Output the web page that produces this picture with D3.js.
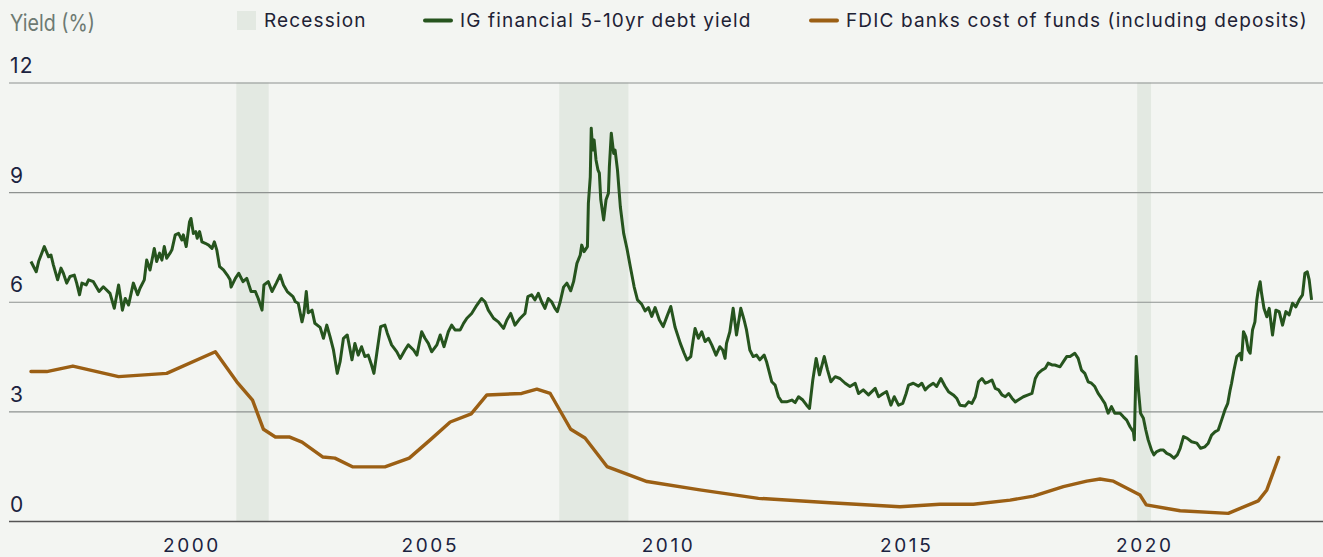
<!DOCTYPE html>
<html>
<head>
<meta charset="utf-8">
<script src="https://cdn.jsdelivr.net/npm/d3@7"></script>
<style>
  body { margin: 0; background: #f3f5f2; }
  svg { display: block; }
  text { font-family: Inter, "Noto Sans", sans-serif; }
</style>
</head>
<body>
<svg id="chart" width="1323" height="557"></svg>
<script>
// IG financial 5-10yr debt yield (decimal year, %)
const igYear = [
  1996.86,1996.97,1997.02,1997.14,1997.23,1997.28,1997.33,1997.42,1997.49,1997.54,
  1997.61,1997.68,1997.77,1997.82,1997.88,1997.93,1998.02,1998.07,1998.17,1998.29,
  1998.38,1998.52,1998.61,1998.70,1998.75,1998.78,1998.84,1998.91,1999.01,1999.10,
  1999.15,1999.24,1999.29,1999.36,1999.45,1999.50,1999.56,1999.61,1999.66,1999.71,
  1999.78,1999.82,1999.89,1999.96,2000.03,2000.06,2000.12,2000.19,2000.22,2000.27,
  2000.32,2000.35,2000.40,2000.45,2000.52,2000.59,2000.66,2000.71,2000.76,2000.82,
  2000.90,2000.98,2001.04,2001.06,2001.15,2001.22,2001.31,2001.39,2001.48,2001.57,
  2001.63,2001.71,2001.75,2001.84,2001.92,2002.01,2002.09,2002.16,2002.24,2002.36,
  2002.41,2002.47,2002.55,2002.59,2002.64,2002.68,2002.76,2002.82,2002.93,2003.00,
  2003.07,2003.14,2003.21,2003.29,2003.35,2003.42,2003.50,2003.60,2003.66,2003.73,
  2003.80,2003.87,2003.94,2004.01,2004.06,2004.12,2004.20,2004.29,2004.34,2004.43,
  2004.54,2004.61,2004.71,2004.78,2004.89,2004.96,2005.06,2005.13,2005.20,2005.27,
  2005.38,2005.45,2005.53,2005.62,2005.69,2005.76,2005.87,2005.94,2006.01,2006.11,
  2006.22,2006.32,2006.39,2006.46,2006.57,2006.67,2006.78,2006.85,2006.93,2007.02,
  2007.13,2007.23,2007.29,2007.37,2007.44,2007.51,2007.58,2007.65,2007.72,2007.79,
  2007.86,2007.91,2007.97,2008.04,2008.11,2008.19,2008.25,2008.32,2008.39,2008.42,
  2008.47,2008.54,2008.56,2008.60,2008.62,2008.65,2008.68,2008.72,2008.76,2008.79,
  2008.82,2008.88,2008.93,2008.98,2009.00,2009.04,2009.09,2009.12,2009.17,2009.23,
  2009.30,2009.37,2009.44,2009.52,2009.59,2009.68,2009.75,2009.82,2009.89,2009.96,
  2010.05,2010.13,2010.21,2010.29,2010.38,2010.49,2010.57,2010.63,2010.71,2010.76,
  2010.80,2010.87,2010.94,2011.01,2011.08,2011.15,2011.24,2011.32,2011.38,2011.43,
  2011.46,2011.53,2011.60,2011.67,2011.76,2011.83,2011.88,2011.95,2012.02,2012.09,
  2012.16,2012.25,2012.30,2012.41,2012.48,2012.55,2012.62,2012.72,2012.83,2012.90,
  2012.97,2013.06,2013.14,2013.20,2013.27,2013.34,2013.41,2013.51,2013.58,2013.65,
  2013.74,2013.84,2013.95,2014.05,2014.16,2014.23,2014.33,2014.44,2014.51,2014.58,
  2014.65,2014.75,2014.82,2014.91,2014.98,2015.07,2015.16,2015.23,2015.28,2015.38,
  2015.49,2015.56,2015.63,2015.70,2015.80,2015.87,2015.96,2016.05,2016.12,2016.22,
  2016.29,2016.36,2016.47,2016.54,2016.61,2016.68,2016.75,2016.82,2016.89,2016.96,
  2017.03,2017.10,2017.17,2017.24,2017.31,2017.38,2017.45,2017.52,2017.58,2017.69,
  2017.79,2017.87,2017.94,2018.00,2018.08,2018.15,2018.21,2018.29,2018.35,2018.46,
  2018.53,2018.60,2018.67,2018.77,2018.84,2018.91,2018.98,2019.05,2019.12,2019.19,
  2019.26,2019.33,2019.40,2019.47,2019.54,2019.61,2019.72,2019.79,2019.86,2019.93,
  2020.00,2020.02,2020.06,2020.10,2020.15,2020.21,2020.26,2020.31,2020.38,2020.43,
  2020.49,2020.56,2020.63,2020.70,2020.77,2020.85,2020.92,2020.98,2021.05,2021.13,
  2021.22,2021.33,2021.41,2021.50,2021.57,2021.64,2021.71,2021.78,2021.85,2021.92,
  2021.98,2022.03,2022.06,2022.11,2022.17,2022.24,2022.27,2022.31,2022.36,2022.41,
  2022.45,2022.50,2022.55,2022.59,2022.62,2022.66,2022.69,2022.74,2022.80,2022.85,
  2022.92,2022.99,2023.06,2023.13,2023.20,2023.27,2023.34,2023.41,2023.48,2023.55,
  2023.60,2023.65,2023.69,2023.74
];
const igYield = [
  7.10,6.82,7.10,7.51,7.23,7.28,7.01,6.60,6.92,6.78,
  6.51,6.69,6.73,6.51,6.19,6.51,6.46,6.60,6.55,6.28,
  6.41,6.23,5.82,6.46,6.05,5.77,6.09,5.91,6.51,6.19,
  6.37,6.60,7.14,6.87,7.46,7.10,7.33,7.14,7.51,7.19,
  7.33,7.42,7.83,7.87,7.69,7.83,7.51,8.19,8.28,7.87,
  7.92,7.74,7.92,7.64,7.60,7.55,7.46,7.64,7.42,6.96,
  6.87,6.73,6.60,6.40,6.64,6.78,6.55,6.64,6.28,6.28,
  6.09,5.77,6.46,6.55,6.28,6.51,6.73,6.46,6.28,6.14,
  6.00,5.96,5.45,5.68,6.28,5.70,5.77,5.41,5.30,5.00,
  5.36,5.04,4.68,4.04,4.36,5.00,5.09,4.41,4.86,4.54,
  4.77,4.50,4.54,4.27,4.04,4.59,5.32,5.36,5.14,4.82,
  4.63,4.45,4.68,4.82,4.68,4.54,5.18,5.00,4.86,4.63,
  4.82,5.09,4.77,5.18,5.36,5.23,5.23,5.41,5.55,5.68,
  5.91,6.09,6.00,5.77,5.55,5.45,5.27,5.50,5.68,5.36,
  5.55,5.68,6.14,6.19,6.05,6.23,6.00,5.82,6.09,6.00,
  5.82,5.73,6.00,6.40,6.51,6.30,6.55,7.05,7.28,7.55,
  7.37,7.51,8.69,9.42,10.75,10.15,10.43,9.88,9.61,9.52,
  8.79,8.24,8.79,8.97,9.70,10.61,10.06,10.15,9.61,8.60,
  7.87,7.45,6.96,6.41,6.05,5.93,5.75,5.84,5.60,5.84,
  5.50,5.32,5.60,5.87,5.30,4.86,4.59,4.41,4.50,4.95,
  5.27,5.00,5.18,4.91,5.00,4.82,4.54,4.77,4.68,4.45,
  4.86,5.18,5.82,5.09,5.82,5.50,5.23,4.68,4.50,4.54,
  4.41,4.54,4.36,3.81,3.72,3.40,3.26,3.26,3.31,3.24,
  3.40,3.31,3.17,3.08,3.86,4.45,4.00,4.50,4.13,3.81,
  3.95,3.90,3.77,3.68,3.77,3.49,3.59,3.45,3.54,3.63,
  3.40,3.49,3.54,3.17,3.40,3.17,3.22,3.49,3.72,3.77,
  3.69,3.77,3.59,3.68,3.77,3.68,3.90,3.68,3.54,3.45,
  3.36,3.17,3.15,3.26,3.22,3.40,3.81,3.90,3.77,3.81,
  3.86,3.63,3.59,3.45,3.40,3.49,3.36,3.26,3.31,3.40,
  3.45,3.49,3.90,4.04,4.13,4.18,4.32,4.27,4.27,4.22,
  4.36,4.50,4.50,4.59,4.45,4.13,4.04,3.81,3.77,3.68,
  3.49,3.36,3.22,2.95,3.13,2.95,2.95,2.85,2.76,2.58,
  2.44,2.22,4.50,3.68,2.95,2.81,2.49,2.22,1.94,1.81,
  1.90,1.94,1.94,1.85,1.81,1.72,1.81,1.99,2.31,2.26,
  2.17,2.13,1.99,2.03,2.13,2.35,2.44,2.49,2.76,3.04,
  3.22,3.59,3.77,4.13,4.50,4.59,4.41,5.18,5.04,4.68,
  4.59,5.23,5.45,6.05,6.32,6.55,6.23,5.82,5.59,5.82,
  5.09,5.77,5.73,5.36,5.73,5.64,5.96,5.86,6.05,6.19,
  6.78,6.82,6.60,6.05
];

// FDIC banks cost of funds (including deposits)
const fdicYear = [
  1996.86,1997.19,1997.74,1998.70,1999.71,2000.73,2001.18,2001.51,2001.74,2001.99,
  2002.28,2002.55,2002.99,2003.24,2003.62,2004.29,2004.80,2005.24,2005.66,2006.10,
  2006.43,2007.16,2007.48,2007.76,2008.19,2008.49,2008.95,2009.79,2010.90,2012.13,
  2013.63,2015.10,2015.94,2016.64,2017.41,2017.90,2018.53,2019.02,2019.30,2019.58,
  2020.14,2020.27,2020.98,2021.99,2022.62,2022.80,2023.05
];
const fdicCost = [
  4.09,4.09,4.24,3.95,4.04,4.63,3.81,3.31,2.51,2.30,
  2.30,2.16,1.75,1.72,1.48,1.48,1.72,2.22,2.71,2.93,
  3.45,3.49,3.61,3.49,2.51,2.27,1.49,1.08,0.85,0.62,
  0.50,0.39,0.46,0.46,0.57,0.68,0.94,1.09,1.15,1.09,
  0.71,0.44,0.28,0.21,0.55,0.85,1.74
];

const recessionStart = [2001.17, 2007.95, 2020.08];
const recessionEnd   = [2001.85, 2009.40, 2020.37];

const yTicks = [0, 3, 6, 9, 12];
const xTicks = [2000, 2005, 2010, 2015, 2020];

const legendNames = ["Recession", "IG financial 5-10yr debt yield", "FDIC banks cost of funds (including deposits)"];
const seriesColors = { ig: "#26541e", fdic: "#9b5f14", recession: "#e3e9e2" };

// decimal year -> Date
function toDate(yv) {
  const yr = Math.floor(yv);
  const a = new Date(yr, 0, 1), b = new Date(yr + 1, 0, 1);
  return new Date(+a + (yv - yr) * (b - a));
}

const svg = d3.select("#chart");
const W = 1323, H = 557;
const plotLeft = 9, plotRight = W, plotTop = 82.5, plotBottom = 521;

const x = d3.scaleTime()
  .domain([toDate(1996.40), toDate(2023.98)])
  .range([plotLeft, plotRight]);
const y = d3.scaleLinear().domain([0, 12]).range([plotBottom, plotTop]);

svg.append("rect").attr("width", W).attr("height", H).attr("fill", "#f3f5f2");

// recession bands
svg.append("g").selectAll("rect")
  .data(d3.range(recessionStart.length))
  .join("rect")
  .attr("x", i => x(toDate(recessionStart[i])))
  .attr("width", i => x(toDate(recessionEnd[i])) - x(toDate(recessionStart[i])))
  .attr("y", y(12))
  .attr("height", y(0) - y(12))
  .attr("fill", seriesColors.recession);

// gridlines + y labels
const yAxis = d3.axisLeft(y).tickValues(yTicks).tickSize(-(plotRight - plotLeft)).tickFormat(d3.format("d"));
const gy = svg.append("g").attr("transform", `translate(${plotLeft},0)`).call(yAxis);
gy.select(".domain").remove();
gy.selectAll(".tick line")
  .attr("stroke", d => d === 0 ? "#555" : "#8e9290")
  .attr("stroke-width", d => d === 0 ? 1.6 : 1.1);
gy.selectAll(".tick text")
  .attr("x", 1).attr("dy", -10).attr("y", 0)
  .attr("text-anchor", "start")
  .attr("fill", "#1b2340")
  .style("font-size", "21px")
  .style("letter-spacing", "1.2px");

// x labels
const xAxis = d3.axisBottom(x).tickValues(xTicks.map(toDate)).tickSize(0).tickFormat(d3.timeFormat("%Y"));
const gx = svg.append("g").attr("transform", `translate(0,${plotBottom})`).call(xAxis);
gx.select(".domain").remove();
gx.selectAll(".tick text")
  .attr("dx", 11).attr("y", 31).attr("dy", 0)
  .attr("fill", "#1b2340")
  .style("font-size", "19px")
  .style("letter-spacing", "2.6px");

// lines
const igData = igYear.map((d, i) => [toDate(d), igYield[i]]);
const fdicData = fdicYear.map((d, i) => [toDate(d), fdicCost[i]]);
const line = d3.line().x(d => x(d[0])).y(d => y(d[1]));

svg.append("path").datum(fdicData)
  .attr("d", line).attr("fill", "none")
  .attr("stroke", seriesColors.fdic).attr("stroke-width", 3.4)
  .attr("stroke-linejoin", "round").attr("stroke-linecap", "round");

svg.append("path").datum(igData)
  .attr("d", line).attr("fill", "none")
  .attr("stroke", seriesColors.ig).attr("stroke-width", 3)
  .attr("stroke-linejoin", "round");

// title
svg.append("text").attr("x", 10).attr("y", 31)
  .text("Yield (%)")
  .attr("fill", "#6d7a72")
  .attr("textLength", 85)
  .attr("lengthAdjust", "spacingAndGlyphs")
  .style("font-size", "23px");

// legend
const lg = svg.append("g");
lg.append("rect").attr("x", 237).attr("y", 11).attr("width", 19).attr("height", 19).attr("fill", seriesColors.recession);
lg.append("line").attr("x1", 425).attr("x2", 451).attr("y1", 20.5).attr("y2", 20.5)
  .attr("stroke", seriesColors.ig).attr("stroke-width", 4).attr("stroke-linecap", "round");
lg.append("line").attr("x1", 811).attr("x2", 837).attr("y1", 20.5).attr("y2", 20.5)
  .attr("stroke", seriesColors.fdic).attr("stroke-width", 4).attr("stroke-linecap", "round");
const legendX = [264, 460, 846];
lg.selectAll("text.leg").data(legendNames).join("text")
  .attr("class", "leg")
  .attr("x", (d, i) => legendX[i]).attr("y", 27)
  .attr("fill", "#1e2235")
  .style("font-size", "19px")
  .style("letter-spacing", "1.15px")
  .text(d => d);
</script>
</body>
</html>
